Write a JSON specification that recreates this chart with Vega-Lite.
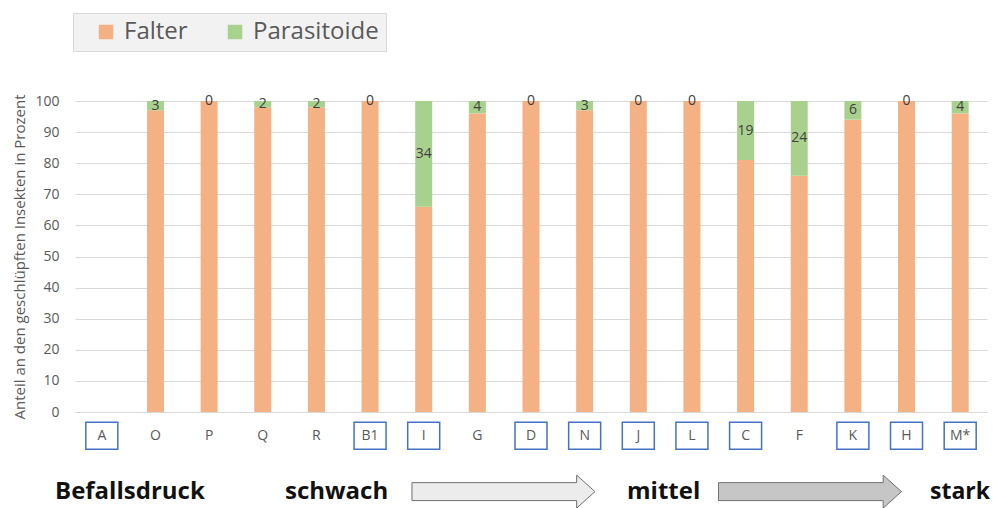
{
  "$schema": "https://vega.github.io/schema/vega-lite/v6.json",
  "autosize": {"type": "none"},
  "width": 912,
  "height": 311,
  "padding": {"left": 75, "top": 101, "right": 7, "bottom": 96},
  "background": "white",
  "config": {"view": {"stroke": null}, "font": "Open Sans"},
  "data": {"values": [
    {"Standort": "A", "Falter": null, "Parasitoide": null, "markiert": true},
    {"Standort": "O", "Falter": 97, "Parasitoide": 3, "markiert": false},
    {"Standort": "P", "Falter": 100, "Parasitoide": 0, "markiert": false},
    {"Standort": "Q", "Falter": 98, "Parasitoide": 2, "markiert": false},
    {"Standort": "R", "Falter": 98, "Parasitoide": 2, "markiert": false},
    {"Standort": "B1", "Falter": 100, "Parasitoide": 0, "markiert": true},
    {"Standort": "I", "Falter": 66, "Parasitoide": 34, "markiert": true},
    {"Standort": "G", "Falter": 96, "Parasitoide": 4, "markiert": false},
    {"Standort": "D", "Falter": 100, "Parasitoide": 0, "markiert": true},
    {"Standort": "N", "Falter": 97, "Parasitoide": 3, "markiert": true},
    {"Standort": "J", "Falter": 100, "Parasitoide": 0, "markiert": true},
    {"Standort": "L", "Falter": 100, "Parasitoide": 0, "markiert": true},
    {"Standort": "C", "Falter": 81, "Parasitoide": 19, "markiert": true},
    {"Standort": "F", "Falter": 76, "Parasitoide": 24, "markiert": false},
    {"Standort": "K", "Falter": 94, "Parasitoide": 6, "markiert": true},
    {"Standort": "H", "Falter": 100, "Parasitoide": 0, "markiert": true},
    {"Standort": "M*", "Falter": 96, "Parasitoide": 4, "markiert": true}
  ]},
  "resolve": {"scale": {"x": "independent", "y": "independent"}},
  "layer": [
    {
      "transform": [{"fold": ["Falter", "Parasitoide"], "as": ["Gruppe", "Anteil"]}],
      "mark": {"type": "bar", "width": 17},
      "encoding": {
        "x": {"field": "Standort", "type": "nominal",
          "scale": {"type": "band", "domain": ["A","O","P","Q","R","B1","I","G","D","N","J","L","C","F","K","H","M*"], "paddingInner": 0, "paddingOuter": 0},
          "axis": {"title": null, "labelAngle": 0, "ticks": false, "domainColor": "#d9d9d9", "labelColor": "#595959", "labelFontSize": 14, "labelPadding": 23, "labelBaseline": "middle", "grid": false}},
        "y": {"field": "Anteil", "type": "quantitative", "stack": "zero",
          "scale": {"domain": [0, 100], "nice": false},
          "axis": {"title": "Anteil an den geschlüpften Insekten in Prozent", "values": [0,10,20,30,40,50,60,70,80,90,100], "domain": false, "ticks": false, "gridColor": "#d9d9d9", "labelColor": "#595959", "labelFontSize": 14, "labelPadding": 16, "titleColor": "#595959", "titleFontSize": 15, "titleFontWeight": "normal", "titlePadding": 7}},
        "color": {"field": "Gruppe", "type": "nominal",
          "scale": {"domain": ["Falter", "Parasitoide"], "range": ["#F4B183", "#A9D18E"]},
          "legend": {"title": null, "orient": "none", "legendX": -2, "legendY": -88, "direction": "horizontal", "fillColor": "#f2f2f2", "strokeColor": "#d9d9d9", "padding": 7, "symbolType": "square", "symbolSize": 210, "symbolStrokeWidth": 0, "labelFontSize": 24, "labelColor": "#595959", "labelOffset": 6, "columnPadding": 21, "symbolOffset": 14}},
        "order": {"field": "Gruppe", "sort": "ascending"}
      }
    },
    {
      "mark": {"type": "text", "fontSize": 14, "color": "#404040", "baseline": "middle"},
      "encoding": {
        "x": {"field": "Standort", "type": "nominal",
          "scale": {"type": "band", "domain": ["A","O","P","Q","R","B1","I","G","D","N","J","L","C","F","K","H","M*"], "paddingInner": 0, "paddingOuter": 0},
          "axis": null},
        "y": {"field": "Parasitoide", "type": "quantitative", "scale": {"domain": [0, 200], "reverse": true, "nice": false}, "axis": null},
        "text": {"field": "Parasitoide", "type": "quantitative"}
      }
    },
    {
      "transform": [{"filter": "datum.markiert"}],
      "mark": {"type": "bar", "width": 32, "fill": "transparent", "stroke": "#4472C4", "strokeWidth": 1.5},
      "encoding": {
        "x": {"field": "Standort", "type": "nominal",
          "scale": {"type": "band", "domain": ["A","O","P","Q","R","B1","I","G","D","N","J","L","C","F","K","H","M*"], "paddingInner": 0, "paddingOuter": 0},
          "axis": null},
        "y": {"datum": -3.3, "type": "quantitative", "scale": {"domain": [0, 100], "nice": false}, "axis": null},
        "y2": {"datum": -12}
      }
    },
    {
      "data": {"values": [{}]},
      "mark": {"type": "text", "text": "Befallsdruck", "align": "left", "baseline": "middle", "fontSize": 24, "fontWeight": "bold", "color": "#111111"},
      "encoding": {
        "x": {"datum": -2.19, "type": "quantitative", "scale": {"domain": [0, 100], "nice": false, "zero": false}, "axis": null},
        "y": {"datum": -25.7, "type": "quantitative", "scale": {"domain": [0, 100], "nice": false}, "axis": null}
      }
    },
    {
      "data": {"values": [{}]},
      "mark": {"type": "text", "text": "schwach", "align": "left", "baseline": "middle", "fontSize": 24, "fontWeight": "bold", "color": "#111111"},
      "encoding": {
        "x": {"datum": 23.03, "type": "quantitative", "scale": {"domain": [0, 100], "nice": false, "zero": false}, "axis": null},
        "y": {"datum": -25.7, "type": "quantitative", "scale": {"domain": [0, 100], "nice": false}, "axis": null}
      }
    },
    {
      "data": {"values": [{}]},
      "mark": {"type": "text", "text": "mittel", "align": "left", "baseline": "middle", "fontSize": 24, "fontWeight": "bold", "color": "#111111"},
      "encoding": {
        "x": {"datum": 60.53, "type": "quantitative", "scale": {"domain": [0, 100], "nice": false, "zero": false}, "axis": null},
        "y": {"datum": -25.7, "type": "quantitative", "scale": {"domain": [0, 100], "nice": false}, "axis": null}
      }
    },
    {
      "data": {"values": [{}]},
      "mark": {"type": "text", "text": "stark", "align": "left", "baseline": "middle", "fontSize": 23, "fontWeight": "bold", "color": "#111111"},
      "encoding": {
        "x": {"datum": 93.75, "type": "quantitative", "scale": {"domain": [0, 100], "nice": false, "zero": false}, "axis": null},
        "y": {"datum": -25.7, "type": "quantitative", "scale": {"domain": [0, 100], "nice": false}, "axis": null}
      }
    },
    {
      "data": {"values": [{}]},
      "mark": {"type": "point", "shape": "M-1,-0.098L0.8,-0.098L0.8,-0.18L1,0L0.8,0.18L0.8,0.098L-1,0.098Z", "size": 33489, "filled": true, "fill": "#ececec", "fillOpacity": 1, "stroke": "#6f6f6f", "strokeWidth": 1, "opacity": 1},
      "encoding": {
        "x": {"datum": 46.98, "type": "quantitative", "scale": {"domain": [0, 100], "nice": false, "zero": false}, "axis": null},
        "y": {"datum": -25.6, "type": "quantitative", "scale": {"domain": [0, 100], "nice": false}, "axis": null}
      }
    },
    {
      "data": {"values": [{}]},
      "mark": {"type": "point", "shape": "M-1,-0.098L0.8,-0.098L0.8,-0.18L1,0L0.8,0.18L0.8,0.098L-1,0.098Z", "size": 33489, "filled": true, "fill": "#c6c6c6", "fillOpacity": 1, "stroke": "#6f6f6f", "strokeWidth": 1, "opacity": 1},
      "encoding": {
        "x": {"datum": 80.59, "type": "quantitative", "scale": {"domain": [0, 100], "nice": false, "zero": false}, "axis": null},
        "y": {"datum": -25.6, "type": "quantitative", "scale": {"domain": [0, 100], "nice": false}, "axis": null}
      }
    }
  ]
}
